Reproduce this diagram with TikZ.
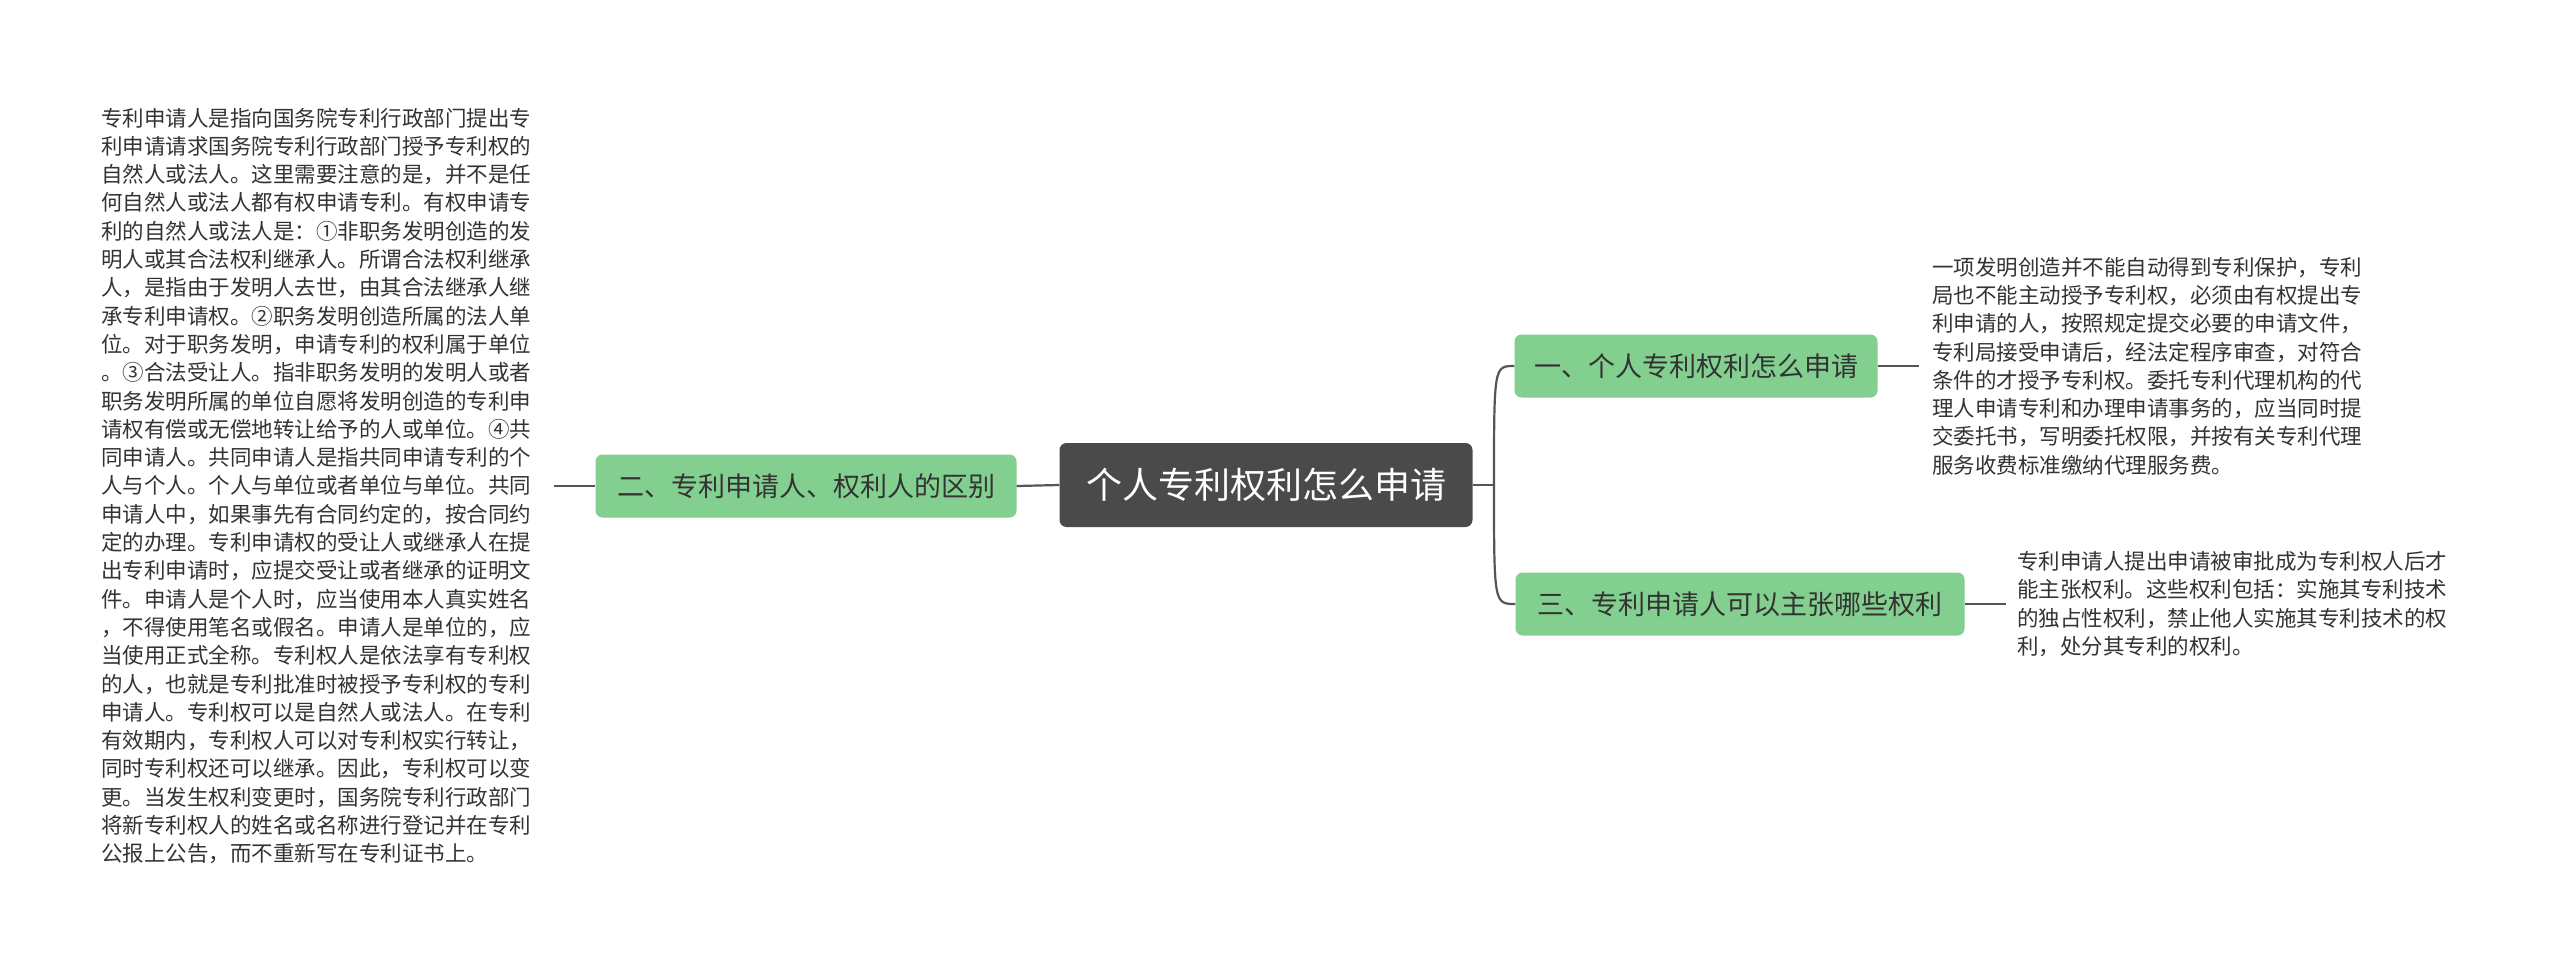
\documentclass[tikz,border=0pt]{standalone}
\usepackage{fontspec}
\setmainfont{Noto Sans CJK SC}
\begin{document}
\begin{tikzpicture}[x=1pt,y=-1pt,
  rootbox/.style={fill=rootc,rounded corners=7pt,text=white,font=\fontsize{36}{40}\selectfont,minimum width=413pt,minimum height=84pt,inner sep=0pt},
  subbox/.style={fill=greenc,rounded corners=7pt,text=txtc,font=\fontsize{27}{30}\selectfont,minimum height=63pt,inner sep=0pt},
  leaf/.style={text=txtc,font=\fontsize{21.5}{28.3}\selectfont,align=left,inner sep=0pt,anchor=west},
  conn/.style={draw=linec,line width=2.2pt}]
\definecolor{rootc}{HTML}{4A4A4A}
\definecolor{greenc}{HTML}{82CF90}
\definecolor{txtc}{HTML}{333333}
\definecolor{linec}{HTML}{555555}
\useasboundingbox[fill=white] (0,0) rectangle (2560,971);
\node[rootbox] (root) at (1266,485) {个人专利权利怎么申请};
\node[subbox,minimum width=421pt] (L) at (806,486) {二、专利申请人、权利人的区别};
\node[subbox,minimum width=363pt] (R1) at (1696,366) {一、个人专利权利怎么申请};
\node[subbox,minimum width=449pt] (R2) at (1740,604) {三、专利申请人可以主张哪些权利};
\node[leaf] (LT) at (101,486) {专利申请人是指向国务院专利行政部门提出专\\利申请请求国务院专利行政部门授予专利权的\\自然人或法人。这里需要注意的是，并不是任\\何自然人或法人都有权申请专利。有权申请专\\利的自然人或法人是：①非职务发明创造的发\\明人或其合法权利继承人。所谓合法权利继承\\人，是指由于发明人去世，由其合法继承人继\\承专利申请权。②职务发明创造所属的法人单\\位。对于职务发明，申请专利的权利属于单位\\。③合法受让人。指非职务发明的发明人或者\\职务发明所属的单位自愿将发明创造的专利申\\请权有偿或无偿地转让给予的人或单位。④共\\同申请人。共同申请人是指共同申请专利的个\\人与个人。个人与单位或者单位与单位。共同\\申请人中，如果事先有合同约定的，按合同约\\定的办理。专利申请权的受让人或继承人在提\\出专利申请时，应提交受让或者继承的证明文\\件。申请人是个人时，应当使用本人真实姓名\\，不得使用笔名或假名。申请人是单位的，应\\当使用正式全称。专利权人是依法享有专利权\\的人，也就是专利批准时被授予专利权的专利\\申请人。专利权可以是自然人或法人。在专利\\有效期内，专利权人可以对专利权实行转让，\\同时专利权还可以继承。因此，专利权可以变\\更。当发生权利变更时，国务院专利行政部门\\将新专利权人的姓名或名称进行登记并在专利\\公报上公告，而不重新写在专利证书上。};
\node[leaf] (RT1) at (1932,366) {一项发明创造并不能自动得到专利保护，专利\\局也不能主动授予专利权，必须由有权提出专\\利申请的人，按照规定提交必要的申请文件，\\专利局接受申请后，经法定程序审查，对符合\\条件的才授予专利权。委托专利代理机构的代\\理人申请专利和办理申请事务的，应当同时提\\交委托书，写明委托权限，并按有关专利代理\\服务收费标准缴纳代理服务费。};
\node[leaf] (RT2) at (2017,604) {专利申请人提出申请被审批成为专利权人后才\\能主张权利。这些权利包括：实施其专利技术\\的独占性权利，禁止他人实施其专利技术的权\\利，处分其专利的权利。};
\coordinate (J) at (1494,485);
\draw[conn] (root.west) -- (L.east);
\draw[conn] (L.west) -- ([xshift=-41pt]L.west);
\draw[conn] (root.east) -- (J);
\draw[conn] (J) .. controls (1494,366) .. (R1.west);
\draw[conn] (J) .. controls (1494,604) .. (R2.west);
\draw[conn] (R1.east) -- ([xshift=41pt]R1.east);
\draw[conn] (R2.east) -- ([xshift=41pt]R2.east);
\end{tikzpicture}
\end{document}
